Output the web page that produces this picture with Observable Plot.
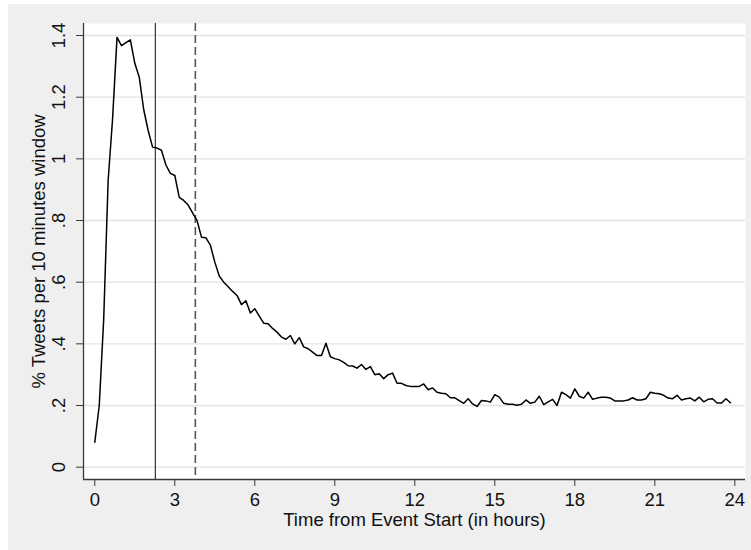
<!DOCTYPE html>
<html>
<head>
<meta charset="utf-8">
<script src="https://cdn.jsdelivr.net/npm/d3@7"></script>
<script src="https://cdn.jsdelivr.net/npm/@observablehq/plot@0.6"></script>
<style>
  html, body { margin: 0; padding: 0; background: #ffffff; }
  #chart {
    position: absolute;
    left: 8px;
    top: 4px;
    width: 743px;
    height: 546px;
    background: #efefef;
  }
  #chart svg { display: block; }
</style>
</head>
<body>
<div id="chart"></div>
<script>
// Share of all tweets (%) posted in each 10-minute window after the event start
const windowMinutes = 10;
const tweetShare = [
  0.081, 0.200, 0.480, 0.930, 1.130, 1.394, 1.367, 1.377, 1.386, 1.310, 1.265, 1.160,
  1.092, 1.038, 1.035, 1.028, 0.980, 0.953, 0.946, 0.875, 0.865, 0.850, 0.825, 0.800,
  0.746, 0.744, 0.720, 0.665, 0.620, 0.600, 0.585, 0.570, 0.557, 0.527, 0.540, 0.500,
  0.514, 0.490, 0.467, 0.465, 0.450, 0.438, 0.422, 0.415, 0.427, 0.400, 0.420, 0.390,
  0.384, 0.373, 0.362, 0.362, 0.402, 0.358, 0.352, 0.348, 0.340, 0.329, 0.328, 0.321,
  0.333, 0.317, 0.326, 0.300, 0.303, 0.287, 0.300, 0.305, 0.272, 0.272, 0.265, 0.262,
  0.262, 0.262, 0.270, 0.251, 0.257, 0.243, 0.240, 0.238, 0.225, 0.225, 0.216, 0.207,
  0.222, 0.205, 0.197, 0.216, 0.215, 0.211, 0.235, 0.227, 0.207, 0.204, 0.204, 0.201,
  0.204, 0.218, 0.207, 0.211, 0.230, 0.203, 0.212, 0.220, 0.200, 0.243, 0.235, 0.224,
  0.254, 0.230, 0.224, 0.243, 0.220, 0.224, 0.227, 0.227, 0.224, 0.215, 0.215, 0.215,
  0.218, 0.225, 0.218, 0.218, 0.222, 0.243, 0.240, 0.238, 0.233, 0.224, 0.222, 0.233,
  0.218, 0.222, 0.224, 0.215, 0.227, 0.212, 0.220, 0.222, 0.208, 0.208, 0.222, 0.209
];

// Reference times (hours): solid and dashed vertical markers
const solidMarkerHours = [2.27];
const dashedMarkerHours = [3.77];

// Axis ticks and their labels
const xTicks = [0, 3, 6, 9, 12, 15, 18, 21, 24];
const yTicks = [0, 0.2, 0.4, 0.6, 0.8, 1.0, 1.2, 1.4];
const yTickLabels = ["0", ".2", ".4", ".6", ".8", "1", "1.2", "1.4"];

const xTitle = "Time from Event Start (in hours)";
const yTitle = "% Tweets per 10 minutes window";

const xDomain = [-0.424, 24.40];
const yDomain = [-0.040, 1.439];

const series = tweetShare.map((v, i) => ({ hour: (i * windowMinutes) / 60, share: v }));
const yLabelRows = yTicks.map((v, i) => ({ value: v, label: yTickLabels[i] }));

const axisColor = "#3a3a3a";
const fontSize = 18.5;

const chart = Plot.plot({
  width: 743,
  height: 546,
  marginLeft: 75,
  marginRight: 6,
  marginTop: 19,
  marginBottom: 71,
  style: {
    fontFamily: "'Liberation Sans', Arial, sans-serif",
    fontSize: fontSize + "px",
    color: "#111",
    background: "transparent"
  },
  x: { domain: xDomain, axis: null },
  y: { domain: yDomain, axis: null },
  marks: [
    // white plot region
    Plot.frame({ fill: "white", stroke: "none" }),
    // horizontal grid
    Plot.ruleY(yTicks, { stroke: "#e3e3e3", strokeWidth: 1.3 }),
    // event markers
    Plot.ruleX(solidMarkerHours, { stroke: "#333", strokeWidth: 1.2 }),
    Plot.ruleX(dashedMarkerHours, { stroke: "#555", strokeWidth: 1.6, strokeDasharray: "8,4" }),
    // tweet share line
    Plot.line(series, { x: "hour", y: "share", stroke: "#000", strokeWidth: 1.5, strokeLinejoin: "round" }),
    // axis lines
    Plot.ruleX([xDomain[0]], { stroke: axisColor, strokeWidth: 1.3 }),
    Plot.ruleY([yDomain[0]], { stroke: axisColor, strokeWidth: 1.3 }),
    // x axis ticks and labels
    Plot.axisX({ ticks: xTicks, tickSize: 7, tickPadding: 6, stroke: axisColor, label: null, tickFormat: d => String(d) }),
    // y axis ticks
    Plot.axisY({ ticks: yTicks, tickSize: 7, stroke: axisColor, fill: "none", label: null }),
    // rotated y tick labels
    Plot.text(yLabelRows, {
      y: "value", text: "label", frameAnchor: "left", dx: -24.5,
      rotate: -90, textAnchor: "middle", lineAnchor: "middle", fill: "#111"
    }),
    // axis titles
    Plot.text([xTitle], { frameAnchor: "bottom", dy: 41, lineAnchor: "middle", textAnchor: "middle", fill: "#111" }),
    Plot.text([yTitle], { frameAnchor: "left", dx: -44.5, rotate: -90, lineAnchor: "middle", textAnchor: "middle", fill: "#111" })
  ]
});

document.getElementById("chart").appendChild(chart);
</script>
</body>
</html>
